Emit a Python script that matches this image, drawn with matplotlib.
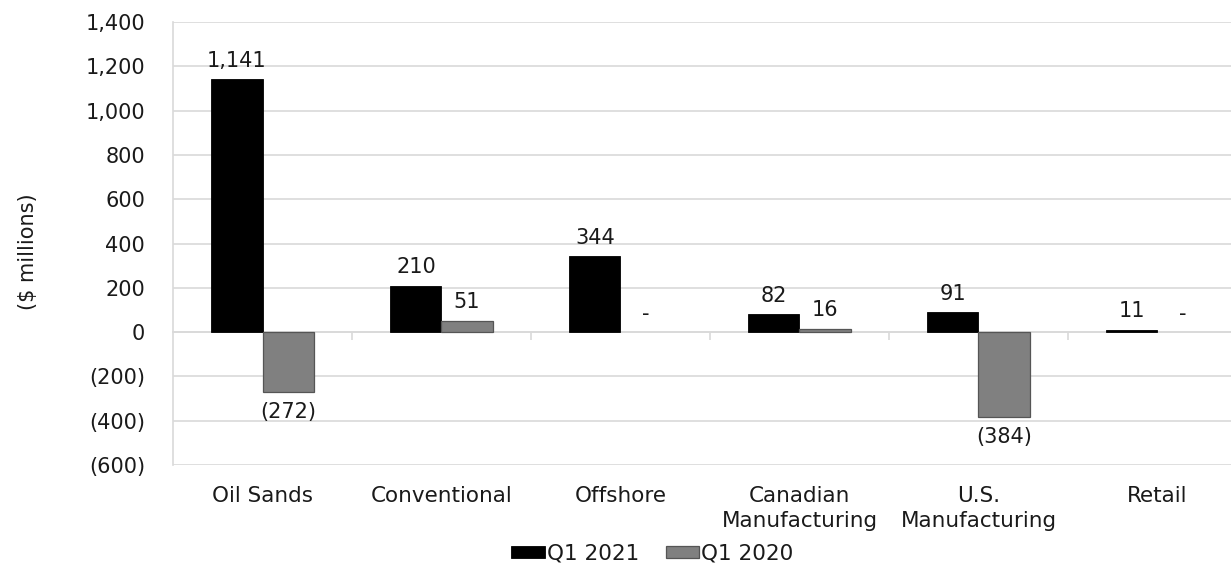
import numpy as np
import matplotlib
matplotlib.use('Agg')
import matplotlib.pyplot as plt

# data
categories = ['Oil Sands', 'Conventional', 'Offshore', 'Canadian\nManufacturing',
              'U.S.\nManufacturing', 'Retail']
q1_2021 = [1141, 210, 344, 82, 91, 11]
q1_2020 = [-272, 51, 0, 16, -384, 0]
series_names = ['Q1 2021', 'Q1 2020']
yticks = [-600, -400, -200, 0, 200, 400, 600, 800, 1000, 1200, 1400]


def fmt(v):
    if v == 0:
        return '-'
    if v < 0:
        return '({:,})'.format(-v)
    return '{:,}'.format(v)


plt.rcParams['font.family'] = 'DejaVu Sans'
txt = '#1a1a1a'
grid_c = '#d9d9d9'
fs = 15

fig = plt.figure(figsize=(12.31, 5.64), dpi=100)
ax = fig.add_axes([173 / 1231, 1 - 465 / 564, 1074 / 1231, 443 / 564])

x = np.arange(len(categories))
w = 0.285
b1 = ax.bar(x - w / 2, q1_2021, w, color='black', edgecolor='black',
            linewidth=[0.6 if v else 0 for v in q1_2021], label=series_names[0], zorder=3)
b2 = ax.bar(x + w / 2, q1_2020, w, color='#808080', edgecolor='#555555',
            linewidth=[0.9 if v else 0 for v in q1_2020], label=series_names[1], zorder=3)

for bars, vals in ((b1, q1_2021), (b2, q1_2020)):
    for rect, v in zip(bars, vals):
        cx = rect.get_x() + rect.get_width() / 2
        if v < 0:
            ax.annotate(fmt(v), (cx, v), xytext=(0, -7), textcoords='offset points',
                        ha='center', va='top', fontsize=fs, color=txt)
        else:
            ax.annotate(fmt(v), (cx, v), xytext=(0, 6), textcoords='offset points',
                        ha='center', va='bottom', fontsize=fs, color=txt)

ax.set_xlim(-0.5, len(categories) - 0.5)
ax.set_ylim(-600, 1400)
ax.set_yticks(yticks)
ax.set_yticklabels([fmt(v) if v != 0 else '0' for v in yticks])
ax.yaxis.grid(True, color=grid_c, linewidth=1.2, zorder=0)
ax.set_axisbelow(True)
ax.set_xticks(x)
ax.set_xticklabels(categories, linespacing=1.3)
ax.tick_params(axis='x', length=0, pad=15, labelsize=15.5, colors=txt)
ax.tick_params(axis='y', length=0, pad=20, labelsize=fs, colors=txt)
for s in ['top', 'right', 'bottom']:
    ax.spines[s].set_visible(False)
ax.spines['left'].set_color(grid_c)
ax.spines['left'].set_linewidth(1.2)
ax.set_ylabel('($ millions)', fontsize=fs, color=txt)
ax.yaxis.set_label_coords(-0.126, 0.481)

# zero axis with category separator ticks
zero_frac = (0 - yticks[0]) / (yticks[-1] - yticks[0])
sec = ax.secondary_xaxis(zero_frac)
sec.set_xticks(x[:-1] + 0.5)
sec.set_xticklabels([''] * (len(x) - 1))
sec.tick_params(length=6, width=1.2, color=grid_c, direction='out')
sec.spines['bottom'].set_color(grid_c)
sec.spines['bottom'].set_linewidth(1.2)

fig.legend(loc='lower center', bbox_to_anchor=(0.53, -0.034), ncol=2, frameon=False,
           fontsize=15.5, handlelength=1.55, handleheight=0.45, handletextpad=0.1,
           columnspacing=1.25, labelcolor=txt)

fig.savefig('out.png', dpi=100)
